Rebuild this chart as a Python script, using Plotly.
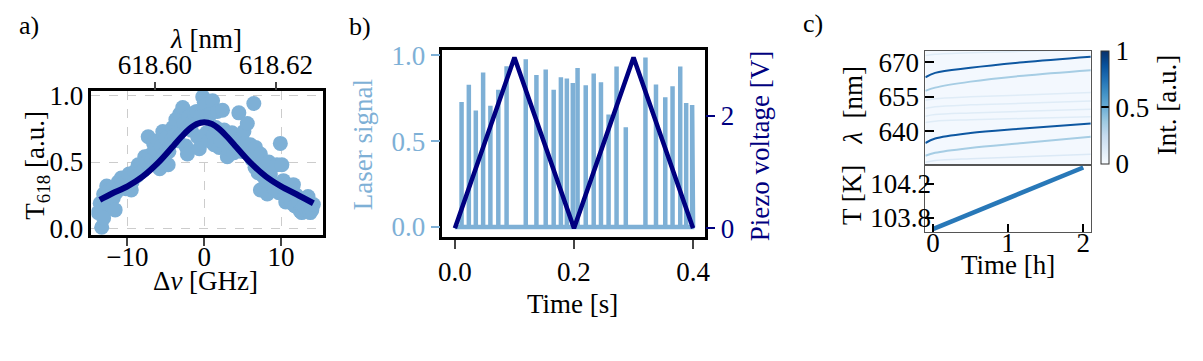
import plotly.graph_objects as go
from plotly.colors import sample_colorscale, sequential

W, H = 1203, 361


def fx(p):
    return p / W


def fy(p):
    return 1 - p / H


# ---- a) transmission vs detuning
detuning_ghz = [-13.8, -13.55, -13.35, -13.35, -13.1, -13.1, -13.0, -12.7, -12.7, -12.5,
                -12.2, -11.9, -11.85, -11.6, -11.5, -11.2, -11.0, -10.8, -10.5, -10.2,
                -9.9, -9.8, -9.5, -9.4, -9.1, -9.0, -8.7, -8.6, -8.3, -8.2,
                -7.9, -7.75, -7.5, -7.3, -7.1, -6.8, -6.6, -6.45, -6.2, -6.0,
                -5.8, -5.6, -5.4, -5.2, -5.0, -4.7, -4.6, -4.3, -4.1, -3.9,
                -3.7, -3.4, -3.2, -3.0, -2.8, -2.6, -2.4, -2.2, -2.0, -1.7,
                -1.5, -1.3, -1.0, -0.86, -0.65, -0.5, -0.2, 0.0, 0.22, 0.3,
                0.43, 0.65, 0.8, 1.08, 1.2, 1.29, 1.5, 1.7, 1.94, 2.2,
                2.37, 2.58, 2.8, 3.0, 3.2, 3.44, 3.6, 3.87, 4.1, 4.5,
                4.73, 4.9, 5.16, 5.3, 5.6, 5.8, 6.0, 6.2, 6.45, 6.6,
                6.67, 6.9, 7.0, 7.3, 7.3, 7.6, 7.9, 8.0, 8.2, 8.4,
                8.6, 8.8, 9.0, 9.2, 9.46, 9.7, 9.9, 10.1, 10.3, 10.5,
                10.6, 10.97, 11.1, 11.4, 11.6, 11.8, 12.0, 12.3, 12.5, 12.7,
                12.9, 13.1, 13.3, 13.5, 13.6, 13.8, 14.0, 14.2]
transmission = [0.12, 0.19, 0.01, 0.13, 0.08, 0.26, 0.22, 0.19, 0.32, 0.28,
                0.25, 0.30, 0.23, 0.14, 0.27, 0.35, 0.31, 0.38, 0.34, 0.30,
                0.36, 0.41, 0.29, 0.35, 0.39, 0.43, 0.40, 0.48, 0.47, 0.43,
                0.44, 0.54, 0.50, 0.69, 0.55, 0.52, 0.64, 0.60, 0.50, 0.66,
                0.45, 0.62, 0.73, 0.56, 0.68, 0.48, 0.58, 0.66, 0.76, 0.70,
                0.82, 0.66, 0.86, 0.75, 0.91, 0.79, 0.62, 0.56, 0.84, 0.74,
                0.80, 0.87, 0.88, 0.69, 0.60, 0.84, 0.99, 0.95, 0.93, 0.72,
                0.85, 0.66, 0.86, 0.96, 0.70, 0.63, 0.76, 0.88, 0.61, 0.66,
                0.89, 0.74, 0.70, 0.54, 0.60, 0.64, 0.72, 0.57, 0.62, 0.87,
                0.68, 0.58, 0.73, 0.64, 0.79, 0.56, 0.63, 0.52, 0.94, 0.46,
                0.61, 0.49, 0.42, 0.56, 0.29, 0.40, 0.45, 0.36, 0.26, 0.50,
                0.41, 0.34, 0.31, 0.30, 0.48, 0.27, 0.64, 0.48, 0.36, 0.24,
                0.20, 0.29, 0.22, 0.19, 0.33, 0.17, 0.25, 0.20, 0.13, 0.12,
                0.17, 0.18, 0.14, 0.24, 0.15, 0.12, 0.14, 0.18]
fit_detuning = [-13.6, -12, -10, -8, -6, -4, -3, -2, -1, 0, 1, 2, 3, 4, 6, 8, 10, 12, 14.2]
fit_transmission = [0.215, 0.263, 0.317, 0.392, 0.495, 0.623, 0.688, 0.746, 0.786, 0.80,
                    0.786, 0.746, 0.688, 0.623, 0.495, 0.392, 0.317, 0.258, 0.19]
lambda_ticks = [618.60, 618.62]

# ---- b) laser signal and piezo ramp
spike_time_s = [0.0112, 0.0234, 0.0351, 0.0474, 0.0596, 0.0729, 0.0868, 0.119, 0.1369, 0.1525,
                0.1659, 0.178, 0.188, 0.198, 0.206, 0.2197, 0.2331, 0.2453, 0.2581, 0.2715,
                0.287, 0.32, 0.3377, 0.3533, 0.3655, 0.3784, 0.3884, 0.3984]
spike_height = [0.728, 0.828, 0.678, 0.90, 0.706, 0.80, 0.937, 0.977, 0.885, 0.918,
                0.80, 0.872, 0.865, 0.839, 0.926, 0.825, 0.894, 0.843, 0.655, 0.935,
                0.581, 0.987, 0.83, 0.756, 0.82, 0.935, 0.723, 0.71]
piezo_time_s = [0.0, 0.1, 0.2, 0.3, 0.4]
piezo_volt = [0.0, 3.03, 0.0, 3.03, 0.0]

# ---- c) spectra over time and temperature
line_time_h = [-0.1, 0.03, 0.5, 1.2, 2.1]
strong_upper_nm = [663.5, 665.4, 667.6, 670.0, 672.4]
medium_upper_nm = [657.6, 659.0, 661.6, 664.2, 666.6]
strong_lower_nm = [634.9, 636.9, 639.3, 641.2, 643.4]
medium_lower_nm = [629.4, 630.7, 632.8, 634.9, 637.6]
faint_top_nm = [673.0, 673.5, 674.2, 674.8, 675.6]
faint_1_nm = [653.5, 654.2, 655.0, 655.8, 656.9]
faint_2_nm = [650.0, 650.7, 651.5, 652.2, 653.2]
faint_3_nm = [646.6, 647.3, 648.0, 648.7, 649.6]
faint_4_nm = [643.8, 644.4, 645.0, 645.6, 646.3]
faint_bottom_nm = [626.6, 627.3, 628.1, 628.9, 630.0]
background_int = 0.02
temp_time_h = [0.0, 0.5, 1.0, 1.5, 2.0]
temp_k = [103.67, 103.85, 104.03, 104.21, 104.39]

SCATTER = "#7eb0d6"
NAVY = "#000080"
FONT = "Liberation Serif"
FS = 27
blues = sequential.Blues

fig = go.Figure()

# a)
fig.add_trace(go.Scatter(x=detuning_ghz, y=transmission, mode="markers",
                         marker=dict(size=15, color=SCATTER, line=dict(width=0)),
                         xaxis="x", yaxis="y", showlegend=False))
fig.add_trace(go.Scatter(x=fit_detuning, y=fit_transmission, mode="lines",
                         line=dict(color=NAVY, width=6, shape="spline"),
                         xaxis="x", yaxis="y", showlegend=False))
# empty trace so the wavelength axis on top is drawn
fig.add_trace(go.Scatter(x=lambda_ticks, y=[None, None], mode="lines",
                         xaxis="x2", yaxis="y", showlegend=False, hoverinfo="skip"))

# b)
sx, sy = [0.0], [0.0]
for t, h in zip(spike_time_s, spike_height):
    sx += [t, t, t]
    sy += [0.0, h, 0.0]
sx.append(0.4)
sy.append(0.0)
fig.add_trace(go.Scatter(x=sx, y=sy, mode="lines", line=dict(color=SCATTER, width=4.5),
                         xaxis="x3", yaxis="y3", showlegend=False))
fig.add_trace(go.Scatter(x=piezo_time_s, y=piezo_volt, mode="lines",
                         line=dict(color=NAVY, width=4.5),
                         xaxis="x3", yaxis="y4", showlegend=False))

# c)
fig.add_trace(go.Heatmap(x=[-0.1, 2.1], y=[625.3, 675.1], z=[[background_int]],
                         colorscale=blues, zmin=0, zmax=1, xaxis="x4", yaxis="y5",
                         colorbar=dict(x=fx(1105), xanchor="left", xpad=0, ypad=0,
                                       y=fy(161.7), yanchor="bottom", len=119 / H,
                                       thickness=8, outlinewidth=1, outlinecolor="#333",
                                       tickvals=[0, 0.5, 1], ticktext=["0", "0.5", "1"],
                                       ticks="inside", ticklen=8, tickwidth=1.5,
                                       tickcolor="black",
                                       tickfont=dict(family=FONT, size=FS, color="black"))))
lines_c = [(faint_top_nm, 0.12, 1.5), (faint_1_nm, 0.12, 1.5), (faint_2_nm, 0.12, 1.5),
           (faint_3_nm, 0.12, 1.5), (faint_4_nm, 0.12, 1.5), (faint_bottom_nm, 0.14, 1.5),
           (medium_upper_nm, 0.35, 2), (medium_lower_nm, 0.35, 2),
           (strong_upper_nm, 0.85, 2), (strong_lower_nm, 0.85, 2)]
for nm, inten, w in lines_c:
    fig.add_trace(go.Scatter(x=line_time_h, y=nm, mode="lines",
                             line=dict(color=sample_colorscale(blues, [inten])[0], width=w,
                                       shape="spline"),
                             xaxis="x4", yaxis="y5", showlegend=False, hoverinfo="skip"))
fig.add_trace(go.Scatter(x=temp_time_h, y=temp_k, mode="lines",
                         line=dict(color="#2878b8", width=4.5),
                         xaxis="x5", yaxis="y6", showlegend=False))

tf = dict(family=FONT, size=FS, color="black")
box = dict(showline=True, linecolor="black", linewidth=2.5, mirror=True, zeroline=False)
thin = dict(showline=True, linecolor="#555", linewidth=1, mirror=True, zeroline=False,
            showgrid=False)
grid = dict(showgrid=True, gridcolor="#cccccc", griddash="dash", gridwidth=1)

fig.update_layout(
    width=W, height=H, autosize=False, margin=dict(l=0, r=0, t=0, b=0),
    paper_bgcolor="white", plot_bgcolor="white", font=tf, showlegend=False,
    xaxis=dict(domain=[fx(88), fx(321)], anchor="y", range=[-14.7, 15.4],
               tickvals=[-10, 0, 10], ticktext=["\u221210", "0", "10"],
               ticks="outside", ticklen=8, tickwidth=2, tickfont=tf,
               ticklabelstandoff=-12, **box, **grid),
    yaxis=dict(domain=[fy(237), fy(85)], anchor="x", range=[-0.05, 1.036],
               tickvals=[0, 0.5, 1], ticktext=["0.0", "0.5", "1.0"],
               ticks="", tickfont=tf, **box, **grid),
    xaxis2=dict(overlaying="x", anchor="y", side="top", range=[618.5895, 618.6277],
                tickvals=lambda_ticks, ticktext=["%.2f" % v for v in lambda_ticks],
                ticks="outside", ticklen=8, tickwidth=2, tickfont=tf,
                ticklabelstandoff=-3,
                showgrid=False, zeroline=False, showline=False),
    xaxis3=dict(domain=[fx(441.7), fx(706.7)], anchor="y3", range=[-0.021, 0.4207],
                tickvals=[0, 0.2, 0.4], ticktext=["0.0", "0.2", "0.4"],
                ticks="outside", ticklen=9, tickwidth=2, tickfont=tf, showgrid=False, **box),
    yaxis3=dict(domain=[fy(239), fy(42.3)], anchor="x3", range=[-0.059, 1.03],
                tickvals=[0, 0.5, 1], ticktext=["0.0", "0.5", "1.0"],
                ticks="outside", ticklen=9, tickwidth=2, tickcolor=SCATTER,
                tickfont=dict(family=FONT, size=FS, color=SCATTER), showgrid=False, **box),
    yaxis4=dict(overlaying="y3", anchor="x3", side="right", range=[-0.157, 3.16],
                tickvals=[0, 2], ticktext=["0", "2"], ticks="outside", ticklen=9,
                tickwidth=2, tickcolor=NAVY,
                tickfont=dict(family=FONT, size=FS, color=NAVY),
                showgrid=False, zeroline=False, showline=False),
    xaxis4=dict(domain=[fx(928.3), fx(1095)], anchor="y5", range=[-0.1, 2.1],
                showticklabels=False, ticks="", **thin),
    yaxis5=dict(domain=[fy(163.3), fy(42.7)], anchor="x4", range=[625.3, 675.1],
                tickvals=[640, 655, 670], ticks="inside", ticklen=9, tickwidth=2,
                tickcolor="black", tickfont=tf, **thin),
    xaxis5=dict(domain=[fx(928.3), fx(1095)], anchor="y6", range=[-0.1, 2.1],
                tickvals=[0, 1, 2], ticks="inside", ticklen=8, tickwidth=1.5,
                tickcolor="black", tickfont=tf, ticklabelstandoff=-14, **thin),
    yaxis6=dict(domain=[fy(234), fy(163.3)], anchor="x5", range=[103.632, 104.417],
                tickvals=[103.8, 104.2], ticktext=["103.8", "104.2"], ticks="inside",
                ticklen=9, tickwidth=2, tickcolor="black", tickfont=tf,
                ticklabelstandoff=-12, **thin),
)


def note(text, x, y, angle=0, color="black", size=FS):
    fig.add_annotation(text=text, x=fx(x), y=fy(y), xref="paper", yref="paper",
                       showarrow=False, textangle=angle, xanchor="center", yanchor="middle",
                       font=dict(family=FONT, size=size, color=color))


note("a)", 25, 16, size=26)
note("b)", 359, 17, size=26)
note("c)", 815, 14, size=26)
note("<i>λ</i> [nm]", 204, 30)
note("Δ<i>ν</i> [GHz]", 203, 285)
note("T<sub>618</sub> [a.u.]", 33, 163, angle=-90)
note("Laser signal", 362, 142, angle=-90, color=SCATTER)
note("Piezo voltage [V]", 762, 143, angle=-90, color=NAVY)
note("Time [s]", 573, 309)
note("<i>λ</i>  [nm]", 855, 100, angle=-90)
note("T [K]", 855, 195, angle=-90)
note("Time [h]", 1012, 268)
note("Int. [a.u.]", 1172, 100, angle=-90)

# drop the browser's default page margin so the figure sits at the window's corner
fig.write_html("out.html", config={"displayModeBar": False},
               post_script="document.body.style.margin='0';")
